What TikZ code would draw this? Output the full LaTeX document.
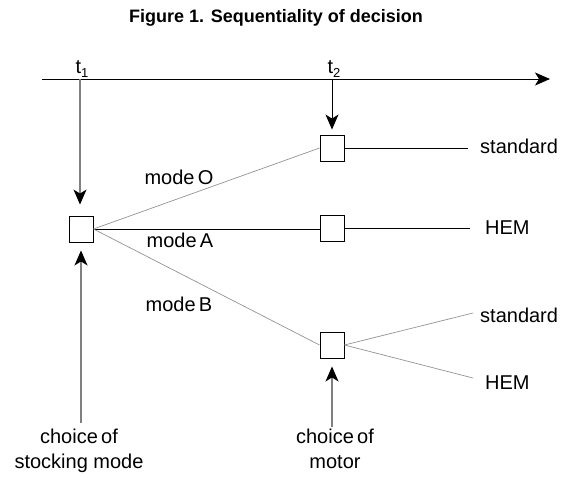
\documentclass[tikz,border=0pt]{standalone}
\usepackage{fontspec}
\setmainfont{Liberation Sans}
\usetikzlibrary{arrows.meta, positioning}

\newcommand{\tsub}[1]{t\raisebox{-4pt}{\fontsize{13}{13}\selectfont #1}}

\begin{document}
\begin{tikzpicture}[
    x=1pt, y=-1pt,
    decbox/.style={rectangle, draw=black, line width=0.9pt, fill=white,
                   minimum width=24pt, minimum height=26pt, inner sep=0pt},
    lbl/.style={font=\fontsize{20}{25}\selectfont, inner sep=0pt},
    tip/.style={-{Stealth[length=15pt, width=13pt, inset=4pt, black]}},
    axis/.style={line width=1pt, black},
    lead/.style={line width=1.3pt, gray},
    plain/.style={line width=0.9pt, black},
    branch/.style={line width=0.7pt, gray!85},
]
\useasboundingbox (0,0) rectangle (562,477);

\node[font=\bfseries\fontsize{18}{20}\selectfont] (title) at (276,18) {Figure 1. Sequentiality of decision};

% Time axis
\coordinate (axstart) at (42,79);
\coordinate (axend) at (550,79);
\draw[axis, tip] (axstart) -- (axend);

\coordinate (t1) at (80,79);
\coordinate (t2) at (332,79);
\node[lbl, anchor=base] (t1lbl) at (82,73) {\tsub{1}};
\node[lbl, anchor=base] (t2lbl) at (334,73) {\tsub{2}};

% Decision nodes
\node[decbox] (dec1) at (81,229) {};
\node[decbox] (dec2) at (332,148) {};
\node[decbox] (dec3) at (332,228) {};
\node[decbox] (dec4) at (332,345) {};

\draw[lead, tip, shorten >=11pt] (t1) -- (t1 |- dec1.north);
\draw[plain, tip, shorten >=5pt] (t2) -- (dec2.north);

% Stocking modes
\draw[branch] (dec1.east) -- (dec2.west);
\draw[plain] (dec1.east) -- (dec1.east -| dec3.west);
\draw[branch] (dec1.east) -- (dec4.west);

\node[lbl] (modeO) at (179,177) {mode\,O};
\node[lbl] (modeA) at (180,240) {mode\,A};
\node[lbl] (modeB) at (179,304) {mode\,B};

% Motors
\node[lbl, anchor=west] (std1) at (480,146) {standard};
\node[lbl, anchor=west] (hem1) at (485,228) {HEM};
\node[lbl, anchor=west] (std2) at (480,315) {standard};
\node[lbl, anchor=west] (hem2) at (485,383) {HEM};

\draw[plain, shorten >=12pt] (dec2.east) -- (dec2.east -| std1.west);
\draw[plain, shorten >=15pt] (dec3.east) -- (hem1.west);
\draw[branch] (dec4.east) -- ([shift={(-7,-2)}]std2.west);
\draw[branch] (dec4.east) -- ([shift={(-12,-5)}]hem2.west);

% Choices
\node[lbl, align=center, anchor=north] (choice1) at (79,429) {choice\,of\\stocking mode};
\node[lbl, align=center, anchor=north] (choice2) at (335,429) {choice\,of\\motor};

\draw[lead, tip, shorten <=6pt, shorten >=8pt] (dec1 |- choice1.north) -- (dec1.south);
\draw[lead, tip, shorten <=2pt, shorten >=8pt] (dec4 |- choice2.north) -- (dec4.south);

\end{tikzpicture}
\end{document}
